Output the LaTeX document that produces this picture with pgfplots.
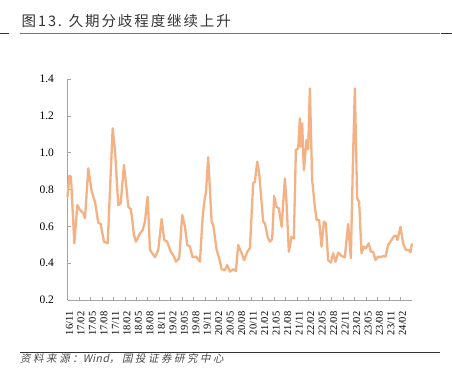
\documentclass[border=0pt]{standalone}
\usepackage{fontspec}
\setmainfont{Liberation Serif}
\newfontfamily\cjktitle[LetterSpace=13]{Noto Sans CJK SC}
\newfontfamily\cjkfoot[LetterSpace=24,FakeSlant=0.2]{Noto Sans CJK SC}
\newfontfamily\cjkfootw[LetterSpace=4,FakeSlant=0.2]{Noto Sans CJK SC}
\usepackage{pgfplots}
\pgfplotsset{compat=1.18}
\definecolor{lineorange}{RGB}{244,177,131}
\definecolor{axgray}{RGB}{165,165,165}
\pgfplotstableread{
x y
0.00 0.761
0.47 0.874
0.91 0.870
1.78 0.508
2.56 0.716
3.26 0.689
4.13 0.672
4.57 0.645
5.43 0.916
6.32 0.789
7.18 0.734
8.04 0.620
8.67 0.613
9.53 0.517
10.50 0.508
11.80 1.133
12.40 1.015
13.26 0.716
13.89 0.725
14.75 0.934
15.46 0.798
15.87 0.707
16.58 0.693
17.36 0.553
17.89 0.517
18.93 0.562
19.63 0.580
20.23 0.626
20.94 0.761
21.54 0.472
22.85 0.432
23.71 0.472
24.60 0.640
25.27 0.526
26.06 0.517
26.95 0.462
27.62 0.445
28.33 0.408
29.19 0.427
29.97 0.662
30.68 0.598
31.28 0.499
31.98 0.490
32.69 0.432
33.55 0.436
34.60 0.408
35.30 0.650
35.90 0.761
36.16 0.780
36.76 0.976
37.65 0.626
38.07 0.608
38.96 0.472
39.63 0.427
40.26 0.367
41.12 0.363
41.72 0.390
42.43 0.354
43.29 0.367
43.99 0.358
44.60 0.499
45.48 0.454
46.16 0.417
46.95 0.462
47.65 0.481
48.51 0.834
48.96 0.843
49.56 0.952
50.08 0.888
51.12 0.626
51.57 0.617
52.27 0.544
52.87 0.517
53.47 0.530
53.99 0.765
54.62 0.707
55.22 0.698
55.93 0.598
56.79 0.861
57.23 0.725
57.83 0.462
58.54 0.544
59.14 0.535
59.66 1.015
60.26 1.024
60.70 1.187
60.97 1.033
61.31 1.160
61.75 0.906
62.45 1.070
62.87 1.019
63.32 1.350
63.92 0.852
64.62 0.707
65.07 0.635
65.74 0.635
66.37 0.490
66.97 0.626
67.49 0.617
68.09 0.417
68.80 0.403
69.40 0.454
70.03 0.408
70.70 0.457
71.59 0.439
72.45 0.432
73.32 0.613
74.02 0.427
74.62 0.997
75.07 1.350
75.67 0.753
76.19 0.734
76.81 0.454
77.42 0.490
77.94 0.481
78.72 0.508
79.24 0.462
79.84 0.462
80.47 0.417
81.15 0.436
81.78 0.432
82.45 0.439
83.08 0.436
83.76 0.499
84.65 0.526
85.33 0.548
85.95 0.549
86.21 0.526
87.00 0.598
87.68 0.508
88.38 0.472
89.16 0.472
89.60 0.459
89.95 0.504
}\datatable
\begin{document}
\begin{tikzpicture}[x=1pt,y=1pt]
\path[use as bounding box] (0,0) rectangle (452,377);
\node[anchor=base west, inner sep=0, text=black!80] at (21.5,350.5) {\cjktitle\fontsize{14.5}{16}\selectfont 图13. 久期分歧程度继续上升};
\draw[black!55, line width=0.8pt] (20,344) -- (440,344);
\draw[black!80, line width=1pt] (0,343.5) -- (9,343.5);
\draw[black!80, line width=1pt] (441,343.5) -- (452,343.5);
\draw[black!80, line width=0.8pt] (20,25) -- (440,25);
\node[anchor=base west, inner sep=0, text=black!70] at (20,14) {\fontsize{10.5}{12}\selectfont\cjkfoot 资料来源：{\cjkfootw Wind}，国投证券研究中心};
\begin{axis}[
  at={(67.5pt,77pt)}, anchor=south west,
  scale only axis, width=344.5pt, height=220.8pt,
  xmin=0, xmax=90, ymin=0.2, ymax=1.4,
  axis x line*=bottom, axis y line*=left,
  axis line style={axgray, line width=0.8pt, -},
  tick align=inside, major tick length=3pt,
  tick style={axgray, line width=0.8pt},
  xtick={0,3,...,87},
  xticklabels={16/11,17/02,17/05,17/08,17/11,18/02,18/05,18/08,18/11,19/02,19/05,19/08,19/11,20/02,20/05,20/08,20/11,21/02,21/05,21/08,21/11,22/02,22/05,22/08,22/11,23/02,23/05,23/08,23/11,24/02},
  xticklabel style={yshift=-8pt, xshift=2pt, rotate=90, anchor=east, font=\fontsize{10.5}{10.5}\selectfont},
  ytick={0.2,0.4,0.6,0.8,1.0,1.2,1.4},
  yticklabel style={font=\fontsize{11.5}{12}\selectfont, xshift=-10pt, /pgf/number format/.cd, fixed, fixed zerofill, precision=1},
  /pgf/number format/assume math mode=true,
  clip=false,
]
\addplot[lineorange, line width=2.3pt, line join=round, line cap=round] table[x=x,y=y] {\datatable};
\end{axis}
\end{tikzpicture}
\end{document}
